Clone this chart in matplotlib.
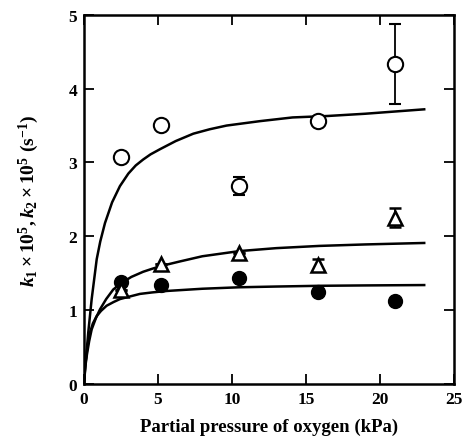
import numpy as np
import matplotlib
matplotlib.use('Agg')
import matplotlib.pyplot as plt

plt.rcParams['font.family'] = 'Liberation Serif'
plt.rcParams['font.weight'] = 'bold'
plt.rcParams['mathtext.fontset'] = 'custom'
plt.rcParams['mathtext.rm'] = 'Liberation Serif:bold'
plt.rcParams['mathtext.it'] = 'Liberation Serif:bold:italic'

# measured points
p_o2 = [2.5, 5.2, 10.5, 15.8, 21.0]
k_open = [3.07, 3.51, 2.68, 3.56, 4.33]
k_open_err = [0, 0, 0.12, 0, 0.54]
k_tri = [1.27, 1.63, 1.77, 1.61, 2.25]
k_tri_err = [0, 0, 0, 0.08, 0.13]
k_fill = [1.38, 1.34, 1.43, 1.25, 1.12]

# fitted curves
curve_top_x = [0, 0.07, 0.14, 0.29, 0.52, 0.86, 1.1, 1.42, 1.9, 2.43, 3.0, 3.5, 4.0,
               4.5, 5.14, 6.2, 7.39, 8.5, 9.64, 11.9, 14.1, 16.5, 19.0, 21.0, 23.0]
curve_top_y = [0, 0.2, 0.35, 0.70, 1.15, 1.69, 1.93, 2.18, 2.46, 2.68, 2.85, 2.96, 3.04,
               3.11, 3.18, 3.29, 3.39, 3.45, 3.50, 3.56, 3.61, 3.63, 3.66, 3.69, 3.72]
curve_mid_x = [0, 0.1, 0.2, 0.35, 0.52, 0.8, 1.08, 1.5, 1.98, 2.55, 3.2, 4.0, 4.6,
               5.25, 6.49, 8.0, 10.5, 13.0, 15.9, 19.0, 23.0]
curve_mid_y = [0, 0.25, 0.40, 0.58, 0.74, 0.89, 1.01, 1.15, 1.28, 1.37, 1.45, 1.52, 1.56,
               1.60, 1.66, 1.73, 1.80, 1.84, 1.87, 1.89, 1.91]
curve_bot_x = [0, 0.07, 0.15, 0.27, 0.41, 0.6, 0.86, 1.15, 1.53, 2.0, 2.43, 3.0,
               3.78, 4.6, 5.6, 8.0, 10.5, 13.0, 15.9, 19.0, 23.0]
curve_bot_y = [0, 0.22, 0.38, 0.55, 0.70, 0.82, 0.92, 0.99, 1.06, 1.11, 1.15, 1.18,
               1.22, 1.24, 1.26, 1.29, 1.31, 1.32, 1.33, 1.335, 1.34]

fig = plt.figure(figsize=(4.64, 4.39), dpi=100)
ax = fig.add_axes([0.181, 0.123, 0.797, 0.841])

ax.plot(curve_top_x, curve_top_y, color='black', lw=1.8)
ax.plot(curve_mid_x, curve_mid_y, color='black', lw=1.8)
ax.plot(curve_bot_x, curve_bot_y, color='black', lw=1.8)

ax.errorbar(p_o2, k_open, yerr=k_open_err, fmt='o', ms=11, mfc='white', mec='black',
            mew=1.5, ecolor='black', elinewidth=1.3, capsize=4, capthick=1.3, zorder=3)
ax.errorbar(p_o2, k_tri, yerr=k_tri_err, fmt='^', ms=10.5, mfc='white', mec='black',
            mew=1.8, ecolor='black', elinewidth=1.3, capsize=4, capthick=1.3, zorder=3)
ax.plot(p_o2, k_fill, 'o', ms=10, color='black', zorder=3)

ax.set_xlim(0, 25)
ax.set_ylim(0, 5)
ax.set_xticks([0, 5, 10, 15, 20, 25])
ax.set_yticks([0, 1, 2, 3, 4, 5])
ax.tick_params(direction='in', top=True, right=True, length=7, width=1.3, labelsize=12.5, pad=5)
for sp in ax.spines.values():
    sp.set_linewidth(1.8)

ax.set_xlabel('Partial pressure of oxygen (kPa)', fontsize=13.5, fontweight='bold', labelpad=8)
ax.set_ylabel(r'$k_1 \times 10^5, k_2 \times 10^5\ (\mathrm{s}^{-1})$', fontsize=14, labelpad=20)

plt.savefig('out.png', dpi=100)
